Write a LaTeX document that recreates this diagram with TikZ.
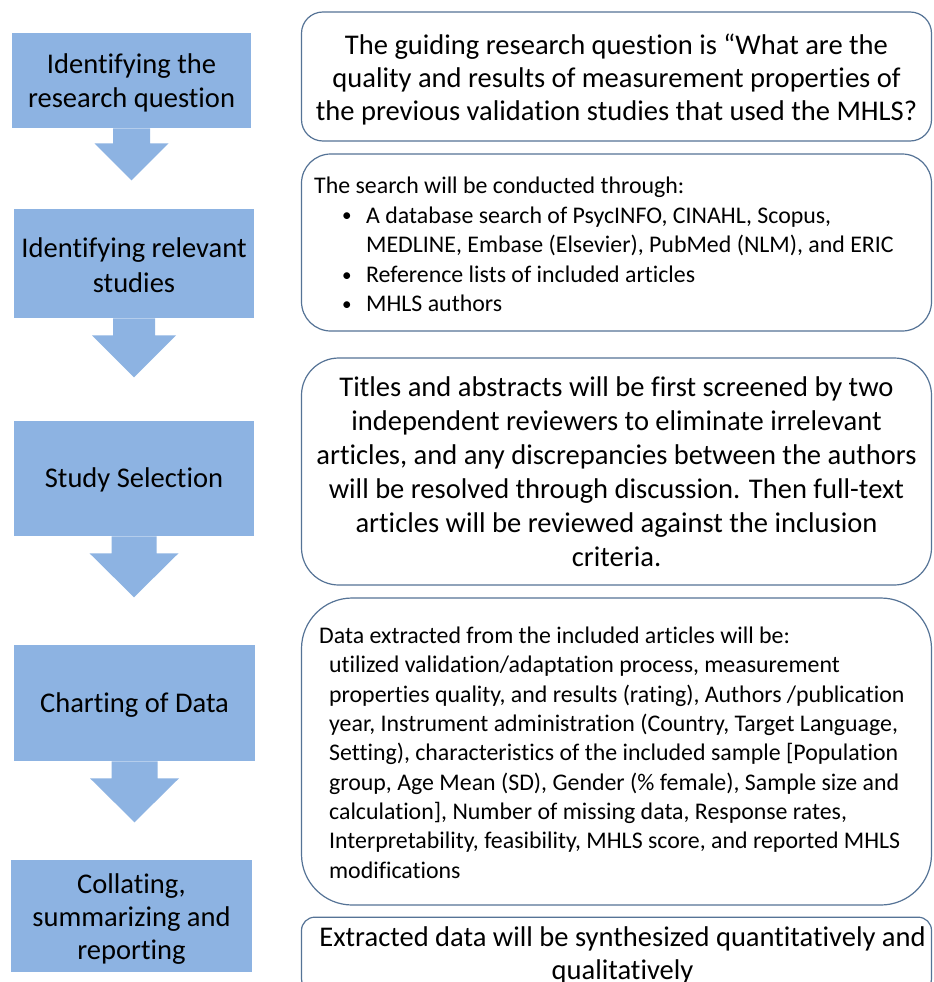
\documentclass[tikz,border=0pt]{standalone}
\usepackage{fontspec}
\setmainfont{Carlito}[Ligatures=CommonOff]
\usetikzlibrary{calc}
\definecolor{stepblue}{RGB}{141,179,226}
\definecolor{boxline}{RGB}{85,115,150}
\tikzset{
  stepbox/.style={fill=stepblue, draw=none, inner sep=0pt},
  infobox/.style={draw=boxline, line width=0.9pt, inner sep=0pt, fill=white,
    minimum width=472.5pt},
  steptext/.style={align=center, inner sep=0pt, font=\fontsize{21.4}{25.5}\selectfont},
  bigtext/.style={align=center, inner sep=0pt, font=\fontsize{21.4}{25}\selectfont},
  smalltext/.style={align=left, inner sep=0pt, font=\fontsize{17.9}{22.2}\selectfont},
  arrowfill/.style={fill=stepblue, draw=none},
}
\newcommand{\flowarrow}[5]{%
  \fill[arrowfill] ($(#1.south)+(-#2,0)$) -- ++(0,#4) -- ++({#2-#3},0)
    -- ++(#3,#5) -- ++(#3,-#5) -- ++({#2-#3},0) -- ++(0,-#4) -- cycle;}
\newcommand{\bul}{\hspace*{21pt}\makebox[18pt][l]{\raisebox{0.1ex}{\scalebox{0.8}{\textbullet}}}}
\begin{document}
\begin{tikzpicture}[x=0.75pt,y=-0.75pt]
\useasboundingbox[fill=white] (0,0) rectangle (933,982);

% left steps
\node[stepbox, minimum width=179.25pt, minimum height=71.25pt] (s1) at (131.5,80.5) {};
\node[stepbox, minimum width=180pt, minimum height=81.75pt] (s2) at (134,263.5) {};
\node[stepbox, minimum width=180pt, minimum height=86.25pt] (s3) at (134,478.5) {};
\node[stepbox, minimum width=180.75pt, minimum height=87pt] (s4) at (134.5,703) {};
\node[stepbox, minimum width=180.75pt, minimum height=84pt] (s5) at (131.5,916) {};

\node[steptext] (s1t) at ($(s1.center)+(0,2)$) {Identifying the\\research question};
\node[steptext, font=\fontsize{21.4}{26}\selectfont] (s2t) at ($(s2.center)+(0,1.5)$) {Identifying relevant\\studies};
\node[steptext] (s3t) at ($(s3.center)+(0,1)$) {Study Selection};
\node[steptext] (s4t) at ($(s4.center)+(0,2)$) {Charting of Data};
\node[steptext, font=\fontsize{21.4}{24.8}\selectfont] (s5t) at ($(s5.center)+(0,3)$) {Collating,\\summarizing and\\reporting};

\flowarrow{s1}{18.5}{37}{15}{37}
\flowarrow{s2}{21}{42}{17}{42}
\flowarrow{s3}{22.5}{44.5}{17}{44}
\flowarrow{s4}{23}{44.5}{17}{44}

% right boxes
\node[infobox, minimum height=96.75pt, rounded corners=16pt] (r1) at (616.5,76.5) {};
\node[infobox, minimum height=132.75pt, rounded corners=22pt] (r2) at (616.5,242.5) {};
\node[infobox, minimum height=170.25pt, rounded corners=28pt] (r3) at (616.5,471.5) {};
\node[infobox, minimum height=230.25pt, rounded corners=38pt] (r4) at (616.5,751.5) {};
\node[infobox, minimum height=56pt, rounded corners=10pt] (r5) at (616.5,954.5) {};

\node[bigtext] (r1t) at ($(r1.center)+(0,3)$)
  {The guiding research question is \char"201C What are the\\
   quality and results of measurement properties of\\
   the previous validation studies that used the MHLS?};

\node[smalltext, anchor=west] (r2t) at ($(r2.west)+(13,2)$)
  {The search will be conducted through:\\
   \bul A database search of PsycINFO, CINAHL, Scopus,\\
   \hspace*{39pt}MEDLINE, Embase (Elsevier), PubMed (NLM), and ERIC\\
   \bul Reference lists of included articles\\
   \bul MHLS authors};

\node[bigtext, font=\fontsize{21.4}{25.5}\selectfont] (r3t) at ($(r3.center)+(0,0)$)
  {Titles and abstracts will be first screened by two\\
   independent reviewers to eliminate irrelevant\\
   articles, and any discrepancies between the authors\\
   will be resolved through discussion. Then full-text\\
   articles will be reviewed against the inclusion\\
   criteria.};

\node[smalltext, anchor=west, font=\fontsize{17.9}{22}\selectfont] (r4t) at ($(r4.west)+(18,1)$)
  {Data extracted from the included articles will be:\\
   \hspace*{7.5pt}utilized validation/adaptation process, measurement\\
   \hspace*{7.5pt}properties quality, and results (rating), Authors /publication\\
   \hspace*{7.5pt}year, Instrument administration (Country, Target Language,\\
   \hspace*{7.5pt}Setting), characteristics of the included sample [Population\\
   \hspace*{7.5pt}group, Age Mean (SD), Gender (\% female), Sample size and\\
   \hspace*{7.5pt}calculation], Number of missing data, Response rates,\\
   \hspace*{7.5pt}Interpretability, feasibility, MHLS score, and reported MHLS\\
   \hspace*{7.5pt}modifications};

\node[bigtext, font=\fontsize{21.4}{24.3}\selectfont] (r5t) at ($(r5.center)+(6,1)$)
  {Extracted data will be synthesized quantitatively and\\qualitatively};
\end{tikzpicture}
\end{document}
